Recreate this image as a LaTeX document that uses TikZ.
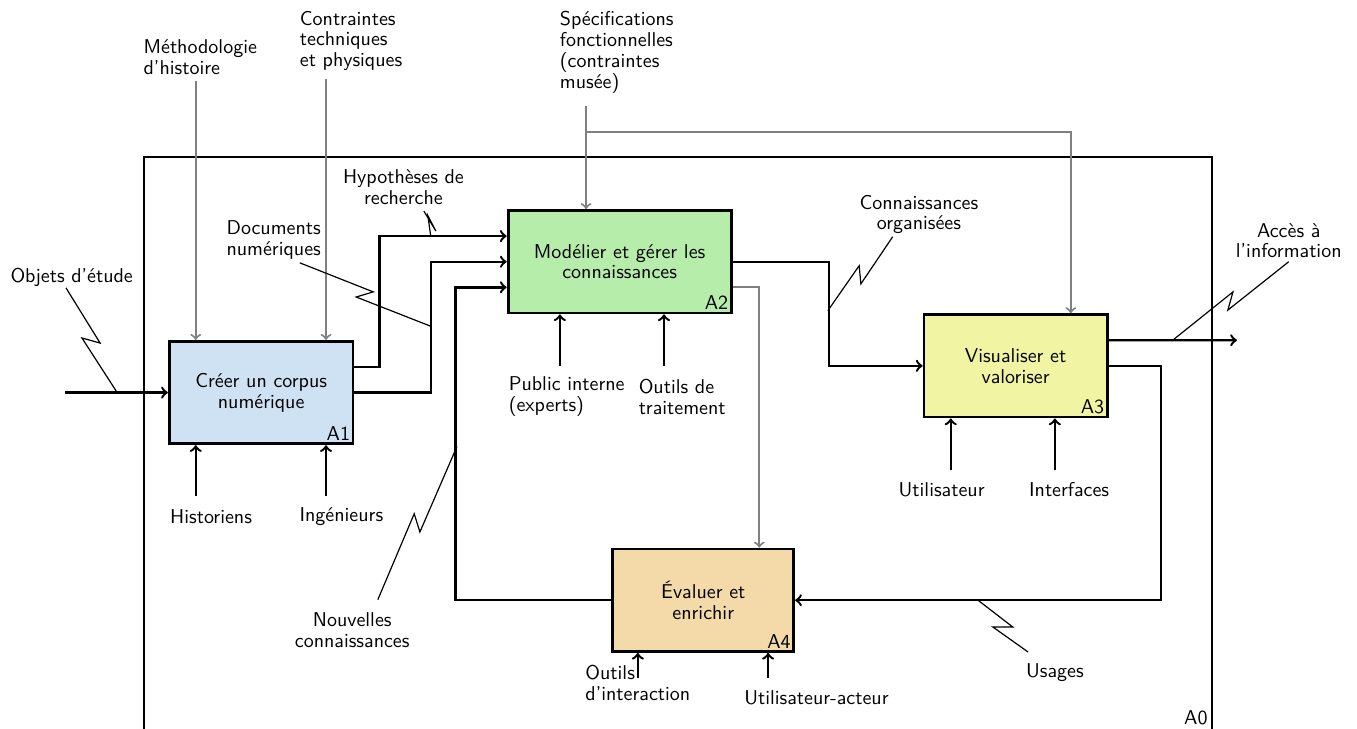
\documentclass[tikz,border=0pt]{standalone}
\usepackage{amssymb,amsmath}
\usepackage{tikz}
\usetikzlibrary{%
  arrows,%
  calc%
}
\renewcommand{\familydefault}{\sfdefault}

\definecolor{bluebox}{HTML}{CFE2F3}
\definecolor{greenbox}{HTML}{B6EDAA}
\definecolor{yellowbox}{HTML}{F1F5A3}
\definecolor{orangebox}{HTML}{F3DAA8}

\tikzset{
  every node/.append style={font=\fontsize{10}{10.4}\selectfont},
  box/.style={draw,line width=1.4pt,minimum width=3.2cm,minimum height=1.8cm,
    align=center},
  tag/.style={anchor=south east,inner sep=2pt},
  flow/.style={line width=1.2pt,->},
  ctrl/.style={line width=1pt,gray,->},
  squig/.style={line width=0.6pt},
  lbl/.style={align=center},
  lbll/.style={align=left}
}

\begin{document}
\begin{tikzpicture}
    \useasboundingbox (0,0) rectangle (23.85,12.81);
    % cadre A0
    \draw[line width=1.4pt] (2.53,-0.2) rectangle (21.30,10.05);
    \node[tag] (a0) at (21.30,0) {A0};

    % activites
    \node[box,fill=bluebox,minimum width=3.23cm] (A1) at (4.59,5.91)
    {Créer un corpus\\numérique};
    \node[box,fill=greenbox,minimum width=3.92cm] (A2) at (10.89,8.21)
    {Modélier et gérer les\\connaissances};
    \node[box,fill=yellowbox,minimum width=3.22cm] (A3) at (17.85,6.38)
    {Visualiser et\\valoriser};
    \node[box,fill=orangebox,minimum width=3.18cm] (A4) at (12.36,2.26)
    {Évaluer et\\enrichir};
    \node[tag] (t1) at (A1.south east) {A1};
    \node[tag] (t2) at (A2.south east) {A2};
    \node[tag] (t3) at (A3.south east) {A3};
    \node[tag] (t4) at (A4.south east) {A4};

    % etiquettes
    \node[lbl] (objl) at (1.26,7.94) {Objets d'étude};
    \node[lbll] (meth) at (3.52,11.80) {Méthodologie\\d'histoire};
    \node[lbll] (contr) at (6.17,12.09) {Contraintes\\techniques\\et physiques};
    \node[lbll] (spec) at (10.84,11.89)
    {Spécifications\\fonctionnelles\\(contraintes\\musée)};
    \node[lbl] (hyp) at (7.09,9.52) {Hypothèses de\\recherche};
    \node[lbl] (doc) at (4.81,8.59) {Documents\\numériques};
    \node[lbl] (conn) at (16.15,9.04) {Connaissances\\organisées};
    \node[lbl] (acc) at (22.65,8.58) {Accès à\\l'information};
    \node[lbll] (pub) at (9.96,5.84) {Public interne\\(experts)};
    \node[lbll] (outt) at (11.99,5.84) {Outils de\\traitement};
    \node[lbl] (hist) at (3.71,3.73) {Historiens};
    \node[lbl] (ing) at (6.00,3.73) {Ingénieurs};
    \node[lbl] (util) at (16.55,4.20) {Utilisateur};
    \node[lbl] (intf) at (18.79,4.20) {Interfaces};
    \node[lbl] (nouv) at (6.19,1.74) {Nouvelles\\connaissances};
    \node[lbll] (outi) at (11.21,0.81) {Outils\\d'interaction};
    \node[lbl] (uact) at (14.35,0.55) {Utilisateur-acteur};
    \node[lbl] (usg) at (18.54,0.98) {Usages};

    % controles
    \coordinate (c1) at (3.44,11.39);
    \coordinate (c2) at (5.73,11.42);
    \coordinate (c3) at (10.30,10.95);
    \coordinate (c4) at (10.30,10.49);
    \coordinate (c5) at (18.82,10.49);
    \draw[ctrl] (c1) -- (c1 |- A1.north);
    \draw[ctrl] (c2) -- (c2 |- A1.north);
    \draw[ctrl] (c3) -- (c3 |- A2.north);
    \draw[ctrl] (c4) -- (c5) -- (c5 |- A3.north);
    \draw[ctrl] ([yshift=-0.45cm]A2.east) -- ++(0.47,0) coordinate (k2)
    -- (k2 |- A4.north);

    % mecanismes
    \coordinate (m1) at (3.44,4.10);
    \coordinate (m2) at (5.73,4.10);
    \coordinate (m3) at (9.84,6.38);
    \coordinate (m4) at (11.67,6.38);
    \coordinate (m5) at (16.71,4.55);
    \coordinate (m6) at (18.54,4.55);
    \coordinate (m7) at (11.21,0.90);
    \coordinate (m8) at (13.50,0.90);
    \draw[flow] (m1) -- (m1 |- A1.south);
    \draw[flow] (m2) -- (m2 |- A1.south);
    \draw[flow] (m3) -- (m3 |- A2.south);
    \draw[flow] (m4) -- (m4 |- A2.south);
    \draw[flow] (m5) -- (m5 |- A3.south);
    \draw[flow] (m6) -- (m6 |- A3.south);
    \draw[flow] (m7) -- (m7 |- A4.south);
    \draw[flow] (m8) -- (m8 |- A4.south);

    % entrees et sorties
    \coordinate (o1) at (1.14,5.91);
    \coordinate (o2) at (21.74,6.83);
    \draw[flow] (o1) -- (A1.west);
    \draw[flow] ([yshift=0.45cm]A1.east) -- ++(0.44,0)
    |- ([yshift=0.45cm]A2.west);
    \draw[flow] (A1.east) -- ++(1.35,0) |- (A2.west);
    \draw[flow] (A4.west) -- ++(-2.74,0) |- ([yshift=-0.45cm]A2.west);
    \draw[flow] (A2.east) -- ++(1.70,0) |- (A3.west);
    \draw[flow] ([yshift=0.45cm]A3.east) -- (o2);
    \draw[flow] (A3.east) -- ++(0.92,0) |- (A4.east);

    % renvois
    \draw[squig] (1.16,7.75) -- (1.76,6.78) -- (1.44,6.87) -- (2.06,5.91);
    \draw[squig] (7.45,9.10) -- (7.66,8.75) -- (7.52,9.02) -- (7.57,8.66);
    \draw[squig] (5.27,8.19) -- (6.56,7.68) -- (6.26,7.59) -- (7.56,7.08);
    \draw[squig] (15.69,8.65) -- (15.13,7.82) -- (15.10,8.14) -- (14.55,7.35);
    \draw[squig] (22.65,8.21) -- (21.58,7.36) -- (21.67,7.68) -- (20.61,6.83);
    \draw[squig] (6.64,2.27) -- (7.28,3.78) -- (7.38,3.46) -- (8.03,4.96);
    \draw[squig] (18.07,1.35) -- (17.45,1.79) -- (17.80,1.79) -- (17.19,2.26);
  \end{tikzpicture}
\end{document}
